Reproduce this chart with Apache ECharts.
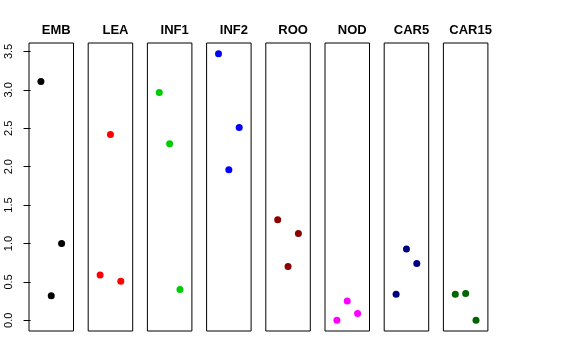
<!DOCTYPE html>
<html>
<head>
<meta charset="utf-8">
<script src="https://cdn.jsdelivr.net/npm/echarts@6/dist/echarts.min.js"></script>
<style>html,body{margin:0;padding:0;background:#fff;}#c{width:576px;height:360px;}</style>
</head>
<body>
<div id="c"></div>
<script>
var panels = ['EMB','LEA','INF1','INF2','ROO','NOD','CAR5','CAR15'];
var colors = ['#000000','#FF0000','#00CD00','#0000FF','#8B0000','#FF00FF','#000080','#006400'];
var replicate = [1, 2, 3];
var EMB   = [3.11, 0.32, 1.00];
var LEA   = [0.59, 2.42, 0.51];
var INF1  = [2.965, 2.30, 0.40];
var INF2  = [3.47, 1.96, 2.51];
var ROO   = [1.31, 0.70, 1.13];
var NOD   = [0.00, 0.25, 0.09];
var CAR5  = [0.34, 0.93, 0.74];
var CAR15 = [0.34, 0.35, 0.00];
var values = [EMB, LEA, INF1, INF2, ROO, NOD, CAR5, CAR15];
var yTicks = [0, 0.5, 1, 1.5, 2, 2.5, 3, 3.5];

(function () {
var chart = echarts.init(document.getElementById('c'));
var grids = [], xAxes = [], yAxes = [], series = [], titles = [];
var left0 = 29, step = 59.2, w = 44.5, gTop = 43, h = 288;
panels.forEach(function (name, i) {
  var l = left0 + i * step;
  grids.push({left: l, top: gTop, width: w, height: h, show: true, borderColor: '#000', borderWidth: 1, backgroundColor: 'transparent'});
  xAxes.push({type: 'value', gridIndex: i, min: -0.15, max: 4.15, show: false});
  yAxes.push({
    type: 'value', gridIndex: i, min: -0.139, max: 3.61,
    show: i === 0,
    splitLine: {show: false},
    axisLine: {show: false},
    axisTick: {show: true, length: 7, customValues: yTicks, lineStyle: {color: '#000'}},
    axisLabel: {show: true, customValues: yTicks, rotate: 90, margin: 15, fontSize: 11, color: '#000', fontFamily: 'Liberation Sans, Arial, sans-serif',
      formatter: function (v) { return v.toFixed(1); }}
  });
  titles.push({text: name, left: l + w / 2, top: 19, textAlign: 'center',
    textStyle: {fontSize: 13, fontWeight: 'bold', color: '#000', fontFamily: 'Liberation Sans, Arial, sans-serif'}});
  series.push({
    type: 'scatter', xAxisIndex: i, yAxisIndex: i, symbolSize: 7,
    itemStyle: {color: colors[i], opacity: 1},
    data: replicate.map(function (x, k) { return [x, values[i][k]]; })
  });
});
chart.setOption({
  animation: false,
  title: titles,
  grid: grids,
  xAxis: xAxes,
  yAxis: yAxes,
  series: series
});
})();
</script>
</body>
</html>
